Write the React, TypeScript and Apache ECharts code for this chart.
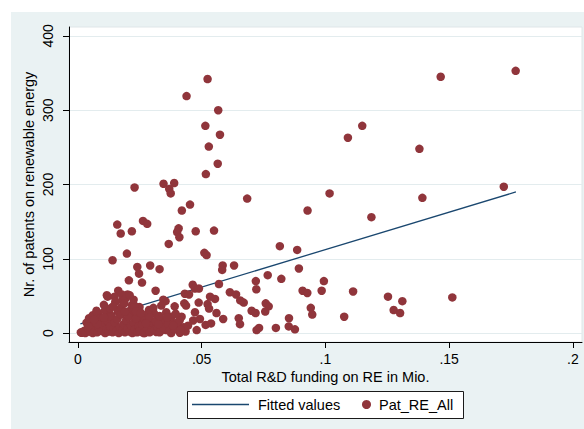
import React, { useEffect, useRef } from "react";
import * as echarts from "echarts";

// ---- data ----
const xTicks = [0, 0.05, 0.1, 0.15, 0.2];
const yTicks = [0, 100, 200, 300, 400];

const fitX = [0.001, 0.177];
const fitY = [12.5, 190];

// upper / sparse observations
const sparsePoints: [number, number][] = [
  [0.0229, 196], [0.0439, 319], [0.0524, 342], [0.0567, 300], [0.0515, 279],
  [0.0574, 267], [0.0529, 251], [0.0565, 228], [0.0517, 214], [0.0346, 201],
  [0.0389, 202], [0.0369, 194], [0.0375, 188], [0.0684, 181], [0.0453, 173],
  [0.042, 165], [0.1466, 345], [0.1769, 353], [0.1149, 279], [0.1091, 263],
  [0.138, 248], [0.1721, 197], [0.1017, 188], [0.0928, 165], [0.1392, 182],
  [0.1186, 156], [0.0886, 112], [0.0893, 87], [0.0994, 70], [0.0908, 57],
  [0.0927, 54], [0.0985, 57], [0.1112, 56], [0.1253, 49], [0.1311, 43],
  [0.1276, 31], [0.1302, 27], [0.0941, 34], [0.0947, 25], [0.1076, 22],
  [0.1513, 48], [0.0853, 20], [0.0877, 5], [0.0852, 9], [0.0816, 117],
  [0.0767, 78], [0.0719, 70], [0.0822, 73], [0.0721, 59], [0.0759, 40],
  [0.0771, 36], [0.0757, 29], [0.0702, 30], [0.0718, 27], [0.08, 7],
  [0.0732, 7], [0.0722, 4],
];

// middle band observations
const middlePoints: [number, number][] = [
  [0.0159, 146], [0.0173, 134], [0.0218, 137], [0.0263, 151], [0.028, 147],
  [0.0407, 141], [0.0401, 136], [0.041, 129], [0.0476, 137], [0.055, 138],
  [0.0367, 120], [0.014, 98], [0.0198, 107], [0.0511, 108], [0.052, 105],
  [0.024, 89], [0.0292, 91], [0.033, 86], [0.0585, 91], [0.0631, 91],
  [0.0583, 85], [0.0247, 80], [0.0259, 68], [0.0206, 71], [0.0314, 57],
  [0.012, 49], [0.0163, 57], [0.0179, 44], [0.0194, 48], [0.057, 66],
  [0.0464, 65], [0.0473, 60], [0.0489, 60], [0.0432, 53], [0.0449, 52],
  [0.0354, 43], [0.0345, 45], [0.0391, 36], [0.0488, 41], [0.0534, 49],
  [0.0554, 46], [0.0524, 39], [0.053, 33], [0.056, 27], [0.0587, 19],
  [0.0614, 55], [0.0639, 52], [0.067, 41], [0.0656, 44], [0.065, 20],
  [0.0655, 12], [0.0466, 17], [0.0473, 28], [0.0516, 11], [0.048, 4],
  [0.0379, 22], [0.0356, 4], [0.0412, 0.5], [0.0426, 8], [0.0493, 19],
  [0.0372, 18], [0.0419, 22], [0.0358, 11], [0.0405, 8], [0.0538, 13],
  [0.043, 40], [0.0437, 37],
];

// dense cluster near the origin
const densePoints: [number, number][] = [
  [0.0162, 29], [0.0215, 32], [0.0287, 31], [0.0307, 27], [0.0219, 38],
  [0.0249, 35], [0.0082, 27], [0.0115, 27], [0.0133, 24], [0.0148, 49],
  [0.0201, 52], [0.0055, 15], [0.0092, 17], [0.0015, 0.5], [0.0117, 51],
  [0.0178, 52], [0.0191, 46], [0.0151, 42], [0.011, 31], [0.0165, 31],
  [0.0198, 28], [0.0209, 51], [0.0337, 37], [0.0357, 28], [0.0411, 17],
  [0.0323, 19], [0.0283, 26], [0.0229, 37], [0.0215, 24], [0.0256, 15],
  [0.0296, 10], [0.035, 6], [0.0377, 0], [0.0229, 1.5], [0.027, 0],
  [0.0317, 1.5], [0.0337, 3.6], [0.0012, 1], [0.0025, 3], [0.003, 0],
  [0.004, 6], [0.005, 2], [0.0055, 10], [0.006, 0], [0.0068, 4],
  [0.0072, 13], [0.0078, 1], [0.0085, 7], [0.009, 20], [0.0095, 3],
  [0.0102, 11], [0.011, 0], [0.0115, 5], [0.012, 16], [0.0125, 2],
  [0.013, 9], [0.0135, 22], [0.014, 1], [0.0145, 6], [0.015, 14],
  [0.0155, 3], [0.016, 19], [0.0165, 0], [0.017, 8], [0.0175, 25],
  [0.018, 4], [0.0185, 12], [0.019, 1], [0.0195, 17], [0.02, 6],
  [0.0205, 22], [0.021, 2], [0.0215, 10], [0.022, 0], [0.0225, 14],
  [0.023, 5], [0.0235, 20], [0.024, 1], [0.0245, 9], [0.025, 3],
  [0.026, 12], [0.0265, 0], [0.027, 18], [0.028, 6], [0.029, 1],
  [0.03, 14], [0.031, 4], [0.032, 9], [0.033, 1], [0.034, 16],
  [0.0345, 7], [0.0365, 12], [0.037, 3], [0.039, 5], [0.04, 14],
  [0.0435, 2], [0.0445, 10], [0.0035, 14], [0.0045, 20], [0.006, 24],
  [0.008, 12], [0.0105, 21], [0.013, 33], [0.0175, 35], [0.019, 29],
  [0.0235, 29], [0.0265, 24], [0.029, 21], [0.0315, 16], [0.033, 23],
  [0.0255, 27], [0.0275, 13], [0.0305, 34], [0.0325, 12], [0.036, 21],
  [0.0385, 10], [0.0395, 26], [0.0415, 4], [0.0105, 38], [0.0075, 30],
  [0.0142, 36], [0.0188, 40], [0.0225, 45], [0.0042, 9], [0.0065, 18],
];

const FONT = "'Liberation Sans', Arial, Helvetica, sans-serif";
const MAROON = "#90353B";
const NAVY = "#1A476F";
const BG = "#EAF2F3";

export default function App() {
  const ref = useRef<HTMLDivElement>(null);

  useEffect(() => {
    if (!ref.current) return;
    const chart = echarts.init(ref.current, undefined, { renderer: "svg" });
    const allPoints = [...sparsePoints, ...middlePoints, ...densePoints];
    const fitData = fitX.map((x, i) => [x, fitY[i]]);
    const fmtX = (v: number) => (v === 0 ? "0" : String(+v.toFixed(3)).replace(/^0/, ""));

    chart.setOption({
      animation: false,
      backgroundColor: "#ffffff",
      textStyle: { fontFamily: FONT },
      graphic: [
        {
          type: "rect",
          z: -10,
          silent: true,
          shape: { x: 11, y: 12, width: 573, height: 417 },
          style: { fill: BG },
        },
        {
          type: "rect",
          z: 3,
          silent: true,
          shape: { x: 187.5, y: 391.5, width: 276, height: 27 },
          style: { fill: "#ffffff", stroke: "#1a1a1a", lineWidth: 1 },
        },
      ],
      grid: {
        left: 69,
        right: 2,
        top: 27,
        bottom: 87,
        show: true,
        backgroundColor: "#ffffff",
        borderColor: "#dfe6e8",
        borderWidth: 1,
      },
      xAxis: {
        type: "value",
        min: -0.0036,
        max: 0.2037,
        name: "Total R&D funding on RE in Mio.",
        nameLocation: "middle",
        nameGap: 27,
        nameMoveOverlap: false,
        nameTextStyle: { fontSize: 14.5, color: "#000", fontFamily: FONT },
        axisLine: { show: true, onZero: false, lineStyle: { color: "#000", width: 1 } },
        axisTick: { show: true, length: 6, customValues: xTicks, lineStyle: { color: "#000" } },
        axisLabel: {
          customValues: xTicks,
          formatter: fmtX,
          fontSize: 14,
          color: "#000",
          margin: 10,
          fontFamily: FONT,
        },
        splitLine: { show: false },
      },
      yAxis: {
        type: "value",
        min: -12,
        max: 412,
        name: "Nr. of patents on renewable energy",
        nameLocation: "middle",
        nameGap: 33,
        nameMoveOverlap: false,
        nameTextStyle: { fontSize: 14.5, color: "#000", fontFamily: FONT },
        axisLine: { show: true, onZero: false, lineStyle: { color: "#000", width: 1 } },
        axisTick: { show: true, length: 6, customValues: yTicks, lineStyle: { color: "#000" } },
        axisLabel: {
          customValues: yTicks,
          rotate: 90,
          fontSize: 14,
          color: "#000",
          margin: 14,
          fontFamily: FONT,
        },
        splitLine: { show: true, lineStyle: { color: "#E3ECEE", width: 1.2 } },
      },
      legend: [
        {
          data: [{ name: "Fitted values", icon: "rect" }],
          left: 192,
          top: 397,
          padding: 0,
          itemWidth: 57,
          itemHeight: 1.4,
          textStyle: { fontSize: 14.5, color: "#000", fontFamily: FONT, padding: [0, 0, 0, 4] },
        },
        {
          data: [{ name: "Pat_RE_All", icon: "circle" }],
          left: 362,
          top: 397,
          padding: 0,
          itemWidth: 9,
          itemHeight: 9,
          textStyle: { fontSize: 14.5, color: "#000", fontFamily: FONT, padding: [0, 0, 0, 3] },
        },
      ],
      series: [
        {
          name: "Fitted values",
          type: "line",
          data: fitData,
          symbol: "none",
          z: 2,
          lineStyle: { color: NAVY, width: 1.3 },
          itemStyle: { color: NAVY },
        },
        {
          name: "Pat_RE_All",
          type: "scatter",
          data: allPoints,
          symbol: "circle",
          symbolSize: 8.5,
          z: 3,
          itemStyle: { color: MAROON, opacity: 1 },
        },
      ],
    });
    return () => chart.dispose();
  }, []);

  return (
    <div
      ref={ref}
      style={{ position: "fixed", left: 0, top: 0, width: 584, height: 429 }}
    />
  );
}
